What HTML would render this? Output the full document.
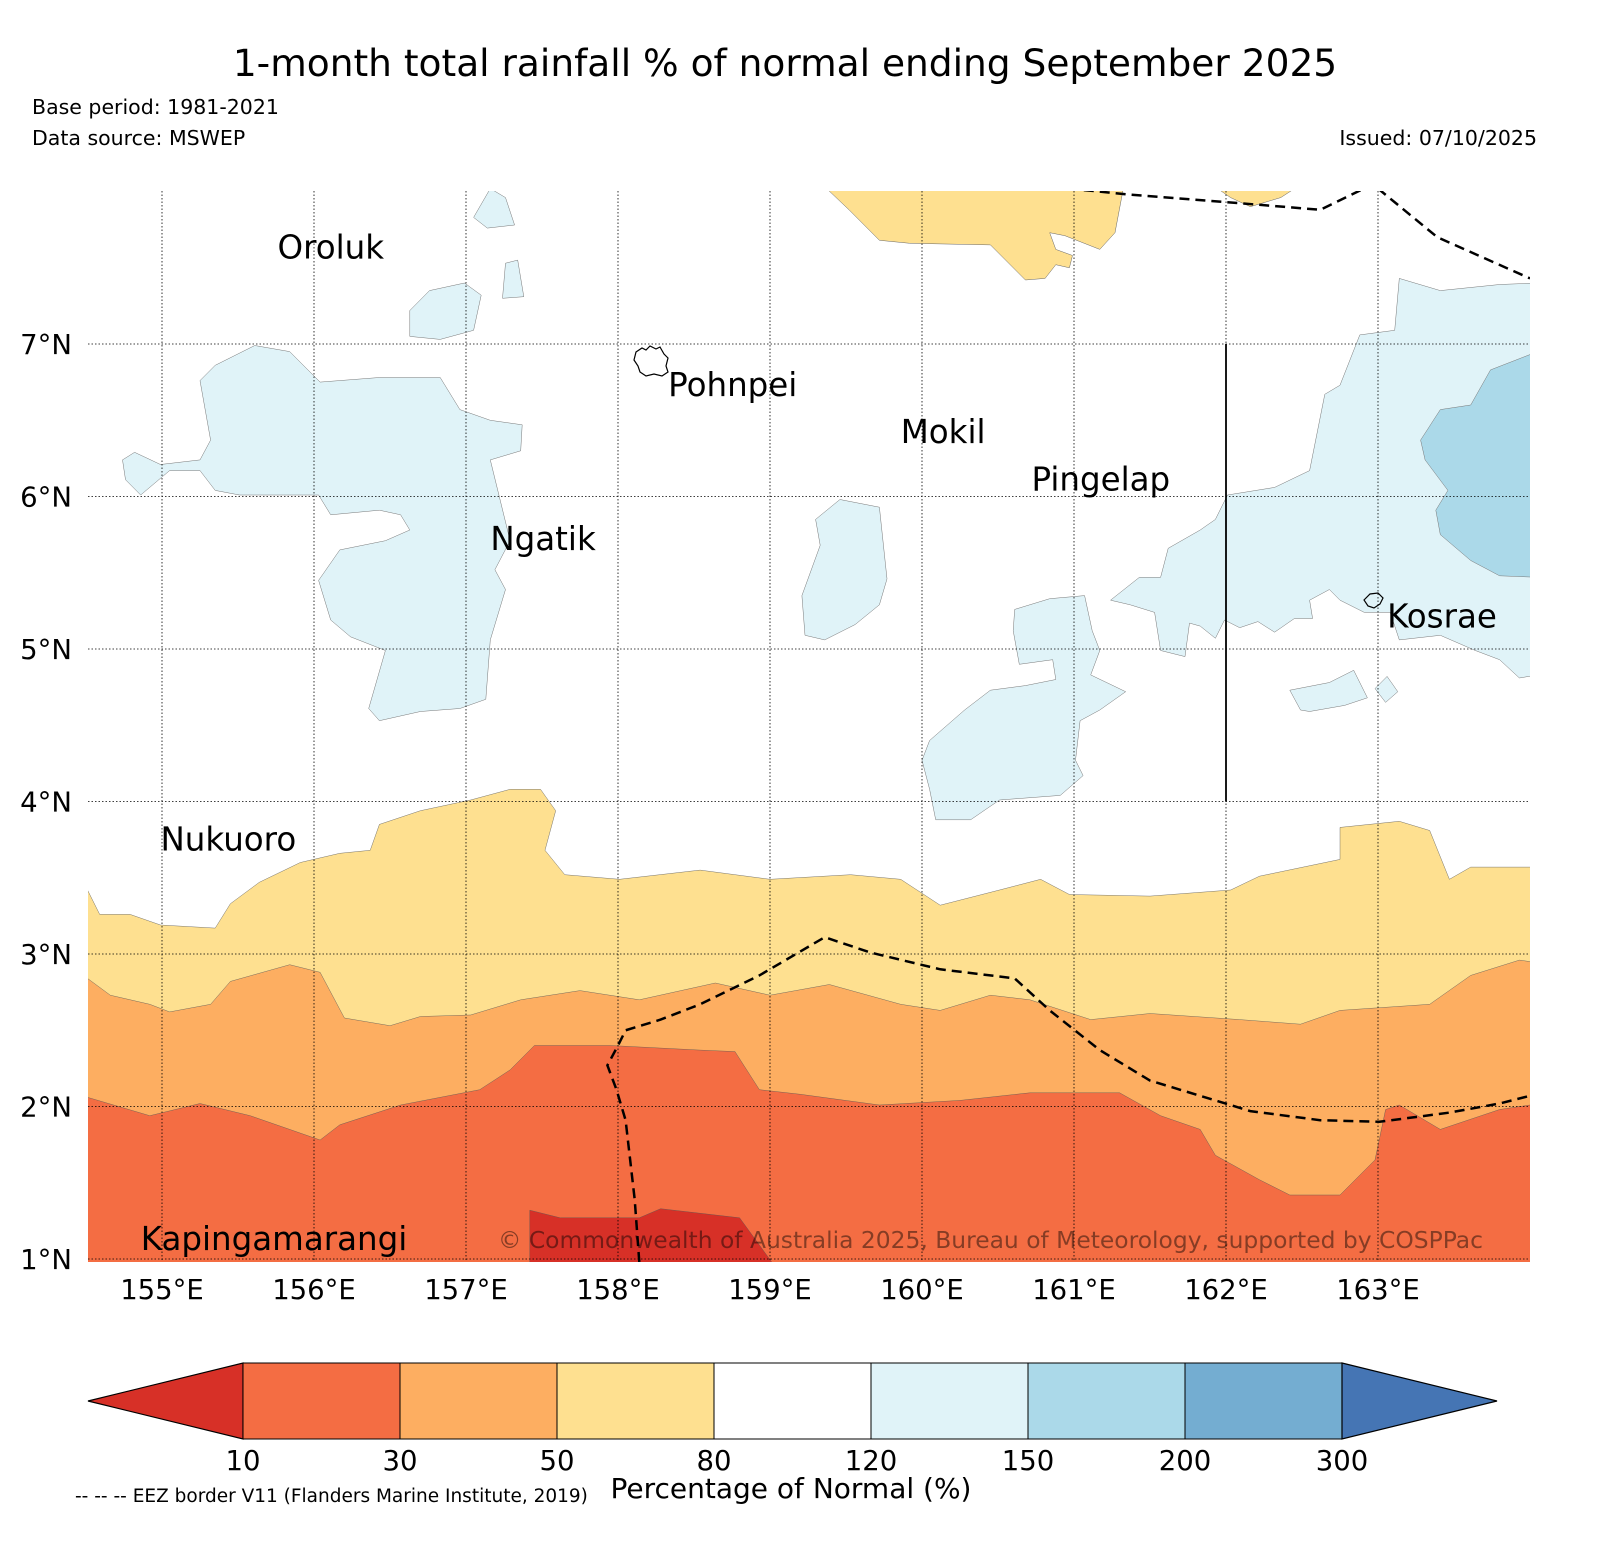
<!DOCTYPE html>
<html><head><meta charset="utf-8"><style>
body{margin:0;background:#fff;width:1609px;height:1563px;overflow:hidden}
svg text{font-family:"DejaVu Sans","Liberation Sans",sans-serif}
</style></head><body>
<svg id="svg" width="1609" height="1563" xmlns="http://www.w3.org/2000/svg">
<text x="785" y="76" font-size="37.5" text-anchor="middle">1-month total rainfall % of normal ending September 2025</text>
<text x="32" y="114" font-size="20.5">Base period: 1981-2021</text>
<text x="32" y="145" font-size="20.5">Data source: MSWEP</text>
<text x="1537" y="145" font-size="20.5" text-anchor="end">Issued: 07/10/2025</text>
<defs><clipPath id="mc"><rect x="88" y="191" width="1442" height="1071"/></clipPath></defs>
<g id="map" clip-path="url(#mc)"></g>
<g id="over"></g>
<g id="cb"></g>
<text x="791" y="1498" font-size="28" text-anchor="middle">Percentage of Normal (%)</text>
<text x="75" y="1502" font-size="18.5">-- -- -- EEZ border V11 (Flanders Marine Institute, 2019)</text>
</svg>
<script>
const lonTicks=[155,156,157,158,159,160,161,162,163];
const latTicks=[1,2,3,4,5,6,7];
const yellowLon=[154.51,154.59,154.79,154.99,155.35,155.45,155.64,155.91,156.17,156.37,156.43,156.70,157.03,157.29,157.49,157.59,157.52,157.65,158.01,158.54,159.00,159.53,159.86,160.12,160.51,160.78,160.97,161.50,162.03,162.22,162.75,162.75,163.14,163.34,163.47,163.61,164.00];
const yellowLat=[3.42,3.26,3.26,3.19,3.17,3.33,3.47,3.60,3.66,3.68,3.85,3.94,4.01,4.08,4.08,3.94,3.68,3.52,3.49,3.55,3.49,3.52,3.49,3.32,3.42,3.49,3.39,3.38,3.42,3.51,3.62,3.83,3.87,3.81,3.49,3.57,3.57];
const orangeLon=[154.51,154.66,154.92,155.05,155.32,155.45,155.84,156.04,156.20,156.50,156.70,157.03,157.36,157.75,158.14,158.64,159.00,159.39,159.86,160.12,160.45,160.71,161.11,161.50,162.09,162.49,162.75,163.34,163.61,163.93,164.00];
const orangeLat=[2.84,2.73,2.67,2.62,2.67,2.82,2.93,2.88,2.58,2.53,2.59,2.60,2.70,2.76,2.70,2.81,2.73,2.80,2.67,2.63,2.73,2.70,2.57,2.61,2.57,2.54,2.63,2.67,2.86,2.96,2.95];
const redLon=[154.51,154.92,155.25,155.58,155.84,156.04,156.17,156.57,157.09,157.29,157.45,157.95,158.54,158.77,158.93,159.20,159.72,160.25,160.71,161.30,161.57,161.83,161.93,162.22,162.42,162.75,162.98,163.05,163.14,163.41,163.80,164.00];
const redLat=[2.06,1.94,2.02,1.94,1.85,1.78,1.88,2.01,2.11,2.24,2.40,2.40,2.37,2.36,2.11,2.08,2.01,2.04,2.09,2.09,1.94,1.85,1.68,1.52,1.42,1.42,1.65,1.98,2.01,1.85,1.98,2.01];
const darkRed=[[157.42,0.9],[157.42,1.32],[157.62,1.27],[158.14,1.27],[158.28,1.33],[158.80,1.27],[159.07,0.9]];
const yellowBlobs=[
[[159.34,8.05],[159.52,7.88],[159.72,7.68],[159.92,7.66],[160.45,7.65],[160.68,7.42],[160.81,7.43],[160.88,7.52],[160.97,7.50],[160.99,7.58],[160.88,7.62],[160.84,7.73],[160.94,7.71],[161.17,7.62],[161.27,7.73],[161.33,8.05]],
[[161.9,8.05],[162.03,7.96],[162.16,7.9],[162.36,7.96],[162.5,8.05]]];
const lightBlobs=[
[[154.74,6.24],[154.82,6.29],[154.99,6.21],[155.25,6.24],[155.32,6.37],[155.25,6.76],[155.35,6.86],[155.61,6.99],[155.84,6.95],[156.04,6.75],[156.43,6.78],[156.83,6.78],[156.96,6.57],[157.16,6.50],[157.37,6.47],[157.36,6.30],[157.16,6.24],[157.29,5.71],[157.19,5.52],[157.26,5.39],[157.16,5.06],[157.13,4.67],[156.96,4.61],[156.70,4.59],[156.43,4.53],[156.36,4.61],[156.47,4.99],[156.24,5.08],[156.11,5.19],[156.03,5.45],[156.17,5.65],[156.47,5.71],[156.63,5.78],[156.57,5.88],[156.43,5.91],[156.11,5.88],[156.03,6.01],[155.51,6.01],[155.35,6.04],[155.25,6.17],[155.05,6.17],[154.86,6.01],[154.76,6.11]],
[[156.63,7.22],[156.76,7.35],[156.99,7.40],[157.10,7.32],[157.05,7.09],[156.83,7.03],[156.63,7.05]],
[[157.05,7.83],[157.16,8.02],[157.26,7.96],[157.32,7.78],[157.14,7.76]],
[[157.26,7.53],[157.34,7.55],[157.38,7.31],[157.24,7.30]],
[[159.30,5.85],[159.46,5.98],[159.72,5.93],[159.77,5.46],[159.72,5.29],[159.56,5.16],[159.36,5.06],[159.23,5.09],[159.21,5.35],[159.33,5.68]],
[[160.61,5.26],[160.84,5.33],[161.07,5.35],[161.12,5.12],[161.17,4.99],[161.11,4.83],[161.34,4.72],[161.17,4.60],[161.04,4.53],[161.01,4.27],[161.06,4.17],[160.91,4.04],[160.51,4.01],[160.32,3.88],[160.09,3.88],[160.05,4.08],[160.00,4.27],[160.05,4.40],[160.28,4.60],[160.45,4.73],[160.68,4.76],[160.88,4.80],[160.86,4.93],[160.64,4.90],[160.60,5.12]],
[[161.24,5.32],[161.43,5.47],[161.57,5.47],[161.62,5.66],[161.83,5.78],[161.93,5.85],[162.01,6.01],[162.32,6.06],[162.55,6.17],[162.65,6.67],[162.75,6.73],[162.88,7.06],[163.11,7.09],[163.14,7.43],[163.41,7.35],[163.80,7.39],[164.05,7.40],[164.05,4.83],[163.93,4.81],[163.80,4.93],[163.64,4.99],[163.41,5.09],[163.14,5.06],[163.08,5.24],[162.91,5.24],[162.75,5.32],[162.68,5.39],[162.55,5.32],[162.57,5.20],[162.45,5.20],[162.32,5.11],[162.21,5.18],[162.09,5.14],[161.99,5.19],[161.93,5.07],[161.83,5.15],[161.76,5.17],[161.73,4.95],[161.57,4.99],[161.53,5.24],[161.37,5.29]],
[[162.42,4.73],[162.68,4.78],[162.84,4.86],[162.93,4.68],[162.78,4.63],[162.55,4.59],[162.49,4.60]],
[[162.98,4.74],[163.06,4.82],[163.13,4.72],[163.05,4.65]]];
const midBlobs=[[[163.28,6.37],[163.41,6.57],[163.61,6.60],[163.74,6.83],[164.05,6.95],[164.05,5.47],[163.80,5.48],[163.61,5.58],[163.41,5.75],[163.38,5.91],[163.46,6.04],[163.31,6.24]]];
const eezLines=[
[[160.96,8.02],[161.36,7.98],[162.01,7.93],[162.62,7.88],[162.93,8.03]],
[[163.00,8.02],[163.39,7.70],[164.0,7.43]],
[[158.14,0.98],[158.11,1.39],[158.05,1.91],[157.99,2.11],[157.93,2.27],[158.00,2.40],[158.05,2.50],[158.28,2.57],[158.54,2.67],[158.93,2.86],[159.36,3.11],[159.66,3.01],[160.12,2.90],[160.61,2.84],[160.84,2.63],[161.17,2.37],[161.50,2.17],[161.83,2.07],[162.16,1.97],[162.62,1.91],[163.01,1.90],[163.47,1.96],[163.80,2.02],[164.0,2.07]]];
const islandNames=["Oroluk","Pohnpei","Mokil","Pingelap","Ngatik","Kosrae","Nukuoro","Kapingamarangi"];
const islandLon=[155.76,158.33,159.86,160.72,157.16,163.06,154.99,154.86];
const islandLat=[7.56,6.66,6.35,6.04,5.65,5.14,3.68,1.06];
const cbBounds=["10","30","50","80","120","150","200","300"];
const cbColors=["#f46d43","#fdae61","#fee090","#ffffff","#e0f3f8","#abd9e9","#74add1"];

const X=lon=>162+(lon-155)*152;
const Y=lat=>344-(lat-7)*152.5;
const NS="http://www.w3.org/2000/svg";
const map=document.getElementById('map'),over=document.getElementById('over'),cb=document.getElementById('cb');
function mk(tag,attrs,parent){const e=document.createElementNS(NS,tag);for(const k in attrs)e.setAttribute(k,attrs[k]);parent.appendChild(e);return e;}
function pts(a){return a.map(p=>X(p[0]).toFixed(1)+','+Y(p[1]).toFixed(1)).join(' ');}
function band(lons,lats,color,name){
  const a=lons.map((l,i)=>[l,lats[i]]);
  a.unshift([154.4,lats[0]]);a.push([164.1,lats[lats.length-1]]);
  a.push([164.1,0.8]);a.push([154.4,0.8]);
  const e=mk('polygon',{points:pts(a),fill:color,stroke:'#555','stroke-width':0.4},map);
  
  
}
band(yellowLon,yellowLat,'#fee090','band-50-80');
band(orangeLon,orangeLat,'#fdae61','band-30-50');
band(redLon,redLat,'#f46d43','band-10-30');
{const e=mk('polygon',{points:pts(darkRed),fill:'#d73027',stroke:'#555','stroke-width':0.4},map);

}
yellowBlobs.forEach(b=>{const e=mk('polygon',{points:pts(b),fill:'#fee090',stroke:'#666','stroke-width':0.5},map);

});
lightBlobs.forEach(b=>{const e=mk('polygon',{points:pts(b),fill:'#e0f3f8',stroke:'#777','stroke-width':0.5},map);

});
midBlobs.forEach(b=>{const e=mk('polygon',{points:pts(b),fill:'#abd9e9',stroke:'#777','stroke-width':0.5},map);

});
lonTicks.forEach(l=>{const e=mk('line',{x1:X(l),x2:X(l),y1:191,y2:1262,stroke:'#000','stroke-width':0.8,'stroke-dasharray':'1.5,2'},map);

});
latTicks.forEach(l=>{const e=mk('line',{x1:88,x2:1530,y1:Y(l),y2:Y(l),stroke:'#000','stroke-width':0.8,'stroke-dasharray':'1.5,2'},map);

});
eezLines.forEach(l=>{const e=mk('polyline',{points:pts(l),fill:'none',stroke:'#000','stroke-width':2.5,'stroke-dasharray':'10,6'},map);

});
{const e=mk('line',{x1:X(162),x2:X(162),y1:Y(7),y2:Y(4),stroke:'#000','stroke-width':1.8},map);

}
{const e=mk('path',{d:'M636,352 L642,348 L646,350 L650,346 L656,349 L660,347 L664,354 L668,358 L666,366 L668,372 L662,376 L654,374 L646,376 L640,372 L638,366 L634,360 Z',fill:'none',stroke:'#000','stroke-width':1.2},map);

}
{const e=mk('path',{d:'M1364,600 L1370,594 L1378,593 L1383,598 L1380,604 L1374,608 L1368,606 Z',fill:'none',stroke:'#000','stroke-width':1.2},map);

}
islandNames.forEach((n,i)=>{const e=mk('text',{x:X(islandLon[i]),y:Y(islandLat[i]),'font-size':32.5},over);
e.textContent=n;

});
{const e=mk('text',{x:498,y:1248,'font-size':23.4,fill:'#000','fill-opacity':0.45},over);
e.textContent='© Commonwealth of Australia 2025, Bureau of Meteorology, supported by COSPPac';

}
lonTicks.forEach(l=>{const e=mk('text',{x:X(l),y:1299,'font-size':27.5,'text-anchor':'middle'},over);
e.textContent=l+'°E';

});
latTicks.forEach(l=>{const e=mk('text',{x:72,y:Y(l)+10,'font-size':27.5,'text-anchor':'end'},over);
e.textContent=l+'°N';

});
const cx0=243,cw=157,cy=1363,ch=76;
{const e=mk('polygon',{points:`88,${cy+ch/2} ${cx0},${cy} ${cx0},${cy+ch}`,fill:'#d73027',stroke:'#000','stroke-width':1.2},cb);

}
cbColors.forEach((c,i)=>{const e=mk('rect',{x:cx0+i*cw,y:cy,width:cw,height:ch,fill:c,stroke:'#000','stroke-width':1},cb);

});
{const xe=cx0+cbColors.length*cw;const e=mk('polygon',{points:`${xe},${cy} 1497,${cy+ch/2} ${xe},${cy+ch}`,fill:'#4575b4',stroke:'#000','stroke-width':1.2},cb);

}
cbBounds.forEach((b,i)=>{const e=mk('text',{x:cx0+i*cw,y:1470,'font-size':27.5,'text-anchor':'middle'},cb);
e.textContent=b;

});
</script>
</body></html>
